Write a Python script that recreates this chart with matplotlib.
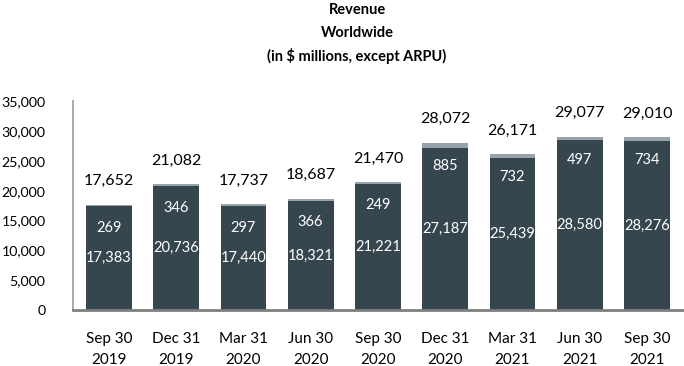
import matplotlib
matplotlib.use("Agg")
import matplotlib.pyplot as plt

categories = ["Sep 30\n2019", "Dec 31\n2019", "Mar 31\n2020", "Jun 30\n2020", "Sep 30\n2020",
              "Dec 31\n2020", "Mar 31\n2021", "Jun 30\n2021", "Sep 30\n2021"]
base_values = [17383, 20736, 17440, 18321, 21221, 27187, 25439, 28580, 28276]
top_values = [269, 346, 297, 366, 249, 885, 732, 497, 734]
totals = [17652, 21082, 17737, 18687, 21470, 28072, 26171, 29077, 29010]
yticks = [0, 5000, 10000, 15000, 20000, 25000, 30000, 35000]

plt.rcParams['font.family'] = ['Lato', 'DejaVu Sans']

fig = plt.figure(figsize=(6.84, 3.66), dpi=100)
ax = fig.add_axes([0.107, 0.153, 0.893, 0.57])

dark = "#36464F"
light = "#96A3AD"
x = list(range(len(categories)))
w = 0.68
ax.bar(x, base_values, width=w, color=dark, zorder=2)
ax.bar(x, top_values, width=w, bottom=base_values, color=light, zorder=2)

for i in x:
    ax.text(i, base_values[i] / 2, f"{base_values[i]:,}", ha="center", va="center",
            color="white", fontsize=10.5)
    ax.text(i, totals[i] - 3900, f"{top_values[i]:,}", ha="center", va="center",
            color="white", fontsize=10.5)
    ax.annotate(f"{totals[i]:,}", (i, totals[i]), xytext=(0, 17), textcoords="offset points",
                ha="center", va="center", fontsize=11.5, color="black")

ax.set_xlim(-0.53, 8.55)
ax.set_ylim(0, 35000)
ax.set_yticks(yticks)
ax.set_yticklabels([f"{v:,}" for v in yticks], fontsize=10.2)
ax.set_xticks(x)
ax.set_xticklabels(categories, fontsize=11, linespacing=1.65)
ax.tick_params(axis="both", length=0)
ax.tick_params(axis="y", pad=20)
ax.tick_params(axis="x", pad=16)
for s in ["top", "right"]:
    ax.spines[s].set_visible(False)
ax.spines["left"].set_color("#9A9A9A")
ax.spines["left"].set_linewidth(1.2)
ax.spines["bottom"].set_color("#7F7F7F")
ax.spines["bottom"].set_linewidth(2)

cx = 0.522
fig.text(cx, 0.972, "Revenue", ha="center", va="center", fontsize=10.5, fontweight="bold")
fig.text(cx, 0.91, "Worldwide", ha="center", va="center", fontsize=10.5, fontweight="bold")
fig.text(cx, 0.847, "(in $ millions, except ARPU)", ha="center", va="center", fontsize=10.5, fontweight="bold")

fig.savefig("out.png", dpi=100)
